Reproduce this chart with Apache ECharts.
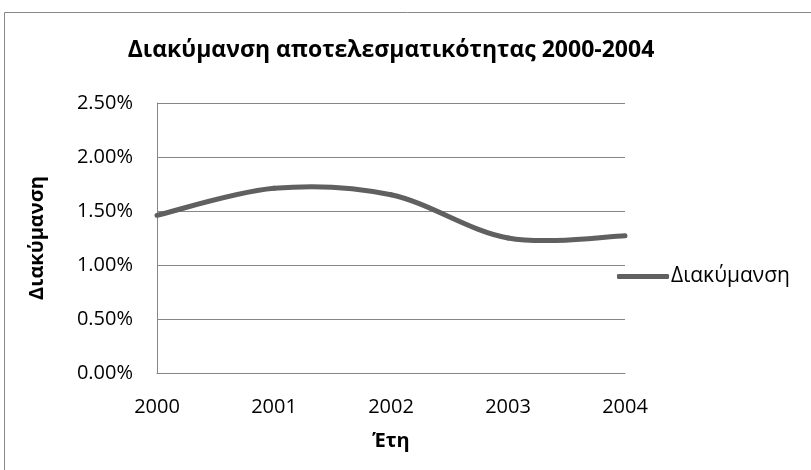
<!DOCTYPE html>
<html><head><meta charset="utf-8">
<script src="https://cdn.jsdelivr.net/npm/echarts@6/dist/echarts.min.js"></script>
<style>html,body{margin:0;padding:0;background:#fff}#c{width:811px;height:470px}</style>
</head><body><div id="c"></div>
<script>
const categories = ['2000', '2001', '2002', '2003', '2004'];
const variation = [1.46, 1.71, 1.65, 1.25, 1.27];
const seriesName = 'Διακύμανση';
const titleText = 'Διακύμανση αποτελεσματικότητας 2000-2004';
const xName = 'Έτη';
const yName = 'Διακύμανση';
const FONT = '"Open Sans", sans-serif';
const LINE_COLOR = '#606060';

// Excel-like smoothed line (Catmull-Rom Bezier) drawn segment by segment,
// with all positions obtained from the chart's own axes via api.coord.
function renderSegment(params, api) {
  const i = params.dataIndex;
  const n = variation.length;
  if (i >= n - 1) return null;
  const P = k => { const j = Math.max(0, Math.min(n - 1, k)); return api.coord([j, variation[j]]); };
  const p0 = P(i - 1), p1 = P(i), p2 = P(i + 1), p3 = P(i + 2);
  const c1 = [p1[0] + (p2[0] - p0[0]) / 6, p1[1] + (p2[1] - p0[1]) / 6];
  const c2 = [p2[0] - (p3[0] - p1[0]) / 6, p2[1] - (p3[1] - p1[1]) / 6];
  return {
    type: 'bezierCurve',
    shape: {x1: p1[0], y1: p1[1], cpx1: c1[0], cpy1: c1[1], cpx2: c2[0], cpy2: c2[1], x2: p2[0], y2: p2[1]},
    style: {stroke: LINE_COLOR, lineWidth: 5, fill: null, lineCap: 'round'}
  };
}

const chart = echarts.init(document.getElementById('c'), null, {renderer: 'canvas'});
chart.setOption({
  animation: false,
  backgroundColor: '#fff',
  title: {
    text: titleText, left: 386, top: 34, textAlign: 'center',
    textStyle: {fontFamily: FONT, fontSize: 23, fontWeight: 'bold', color: '#000'}
  },
  legend: {
    data: [{name: seriesName, icon: 'roundRect', itemStyle: {color: LINE_COLOR}}],
    left: 612, top: 261, orient: 'vertical',
    itemWidth: 52, itemHeight: 5, itemGap: 6,
    textStyle: {fontFamily: FONT, fontSize: 21, color: '#000', padding: [0,0,0,-3]}
  },
  grid: {left: 157, right: 186, top: 103, bottom: 97, containLabel: false},
  xAxis: {
    type: 'category', data: categories, boundaryGap: false,
    name: xName, nameLocation: 'middle', nameGap: 58,
    nameTextStyle: {fontFamily: FONT, fontSize: 20, fontWeight: 'bold', color: '#000'},
    axisLine: {lineStyle: {color: '#868686', width: 1}},
    axisTick: {show: false},
    axisLabel: {fontFamily: FONT, fontSize: 20, color: '#000', margin: 24}
  },
  yAxis: {
    type: 'value', min: 0, max: 2.5, interval: 0.5,
    name: yName, nameLocation: 'middle', nameGap: 110, nameRotate: 90,
    nameTextStyle: {fontFamily: FONT, fontSize: 20, fontWeight: 'bold', color: '#000'},
    axisLine: {show: true, lineStyle: {color: '#868686', width: 1}},
    axisTick: {show: false},
    splitLine: {lineStyle: {color: '#868686', width: 1}},
    axisLabel: {fontFamily: FONT, fontSize: 20, color: '#000', margin: 24,
      formatter: v => v.toFixed(2) + '%'}
  },
  series: [{
    name: seriesName, type: 'custom', renderItem: renderSegment,
    data: variation.map((v, i) => [i, v]),
    encode: {x: 0, y: 1},
    itemStyle: {color: LINE_COLOR},
    clip: false
  }],
  graphic: [
    {type: 'line', shape: {x1: 4.5, y1: 12.5, x2: 811, y2: 12.5}, style: {stroke: '#888', lineWidth: 1}},
    {type: 'line', shape: {x1: 4.5, y1: 12.5, x2: 4.5, y2: 470}, style: {stroke: '#888', lineWidth: 1}}
  ]
});
</script></body></html>
